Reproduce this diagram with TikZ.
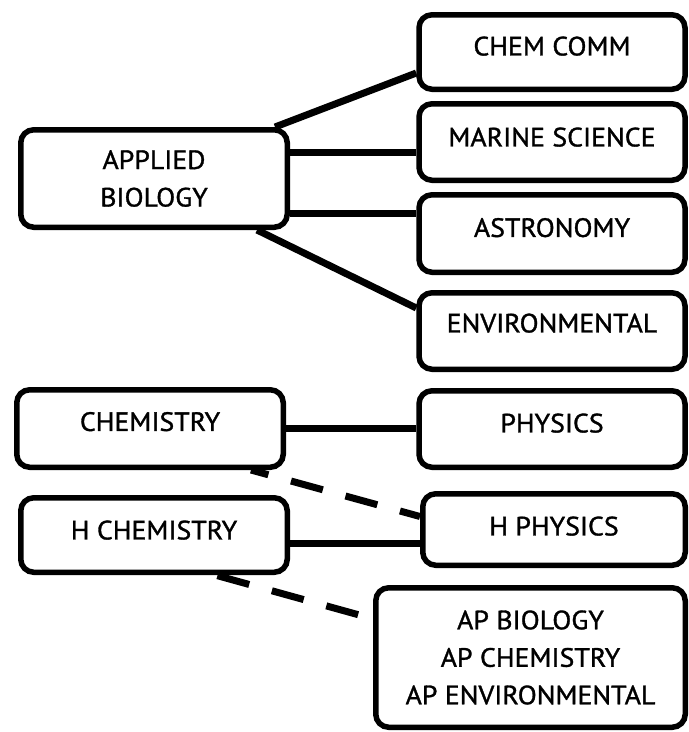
\documentclass[tikz,border=0pt]{standalone}
\usepackage{fontspec}
\setmainfont[FakeBold=1.2,FakeStretch=1.05]{PT Sans}
\usetikzlibrary{backgrounds}
\begin{document}
\begin{tikzpicture}[x=1pt,y=-1pt,
  box/.style={draw=black, line width=5.5pt, rounded corners=13pt, fill=white,
    inner sep=0pt, align=center, font=\fontsize{26.5}{37.5}\selectfont},
  conn/.style={line width=7pt},
  dconn/.style={line width=7pt, dash pattern=on 33pt off 23.5pt}]
\useasboundingbox (0,0) rectangle (689,732);
% right column
\node[box, minimum width=266pt, minimum height=74.5pt, text depth=12pt] (cc) at (552,52) {CHEM COMM};
\node[box, minimum width=266pt, minimum height=76.5pt, text depth=10pt] (ms) at (552,142) {MARINE SCIENCE};
\node[box, minimum width=266pt, minimum height=77.5pt, text depth=12pt] (as) at (552,233.5) {ASTRONOMY};
\node[box, minimum width=266pt, minimum height=76.5pt, text depth=16pt] (en) at (552,331) {ENVIRONMENTAL};
\node[box, minimum width=266.5pt, minimum height=97.5pt] (ab) at (154,178.5) {APPLIED\\BIOLOGY};
% lower part
\node[box, minimum width=266.5pt, minimum height=77.5pt, text depth=14pt] (chem) at (150,428.5) {CHEMISTRY};
\node[box, minimum width=266pt, minimum height=76.5pt, text depth=12pt] (phys) at (552,429) {PHYSICS};
\node[box, minimum width=266.5pt, minimum height=74.5pt, text depth=10pt] (hchem) at (154,535) {H CHEMISTRY};
\node[box, minimum width=262.5pt, minimum height=71.5pt, text depth=7pt] (hphys) at (554,529.5) {H PHYSICS};
\node[box, minimum width=309.5pt, minimum height=139.5pt] (ap) at (530.5,657.5) {AP BIOLOGY\\AP CHEMISTRY\\AP ENVIRONMENTAL};
% connectors
\begin{scope}[on background layer]
\draw[conn] ([xshift=-15pt]ab.north east) -- ([yshift=-21pt]cc.west);
\draw[conn] ([yshift=26.5pt]ab.east) -- ([yshift=26.5pt]ab.east -| ms.west);
\draw[conn] ([yshift=-34.5pt]ab.east) -- ([yshift=-34.5pt]ab.east -| as.west);
\draw[conn] ([xshift=-33pt]ab.south east) -- ([yshift=23pt]en.west);
\draw[conn] (chem.east) -- (chem.east -| phys.west);
\draw[conn] ([yshift=-8pt]hchem.east) -- ([yshift=-8pt]hchem.east -| hphys.west);
\draw[dconn, dash phase=15pt] ([xshift=-35pt]chem.south east) -- ([yshift=13pt]hphys.west);
\draw[dconn, dash phase=54pt] ([xshift=-75pt]hchem.south east) -- ([yshift=38.7pt]ap.west);
\end{scope}
\end{tikzpicture}
\end{document}
